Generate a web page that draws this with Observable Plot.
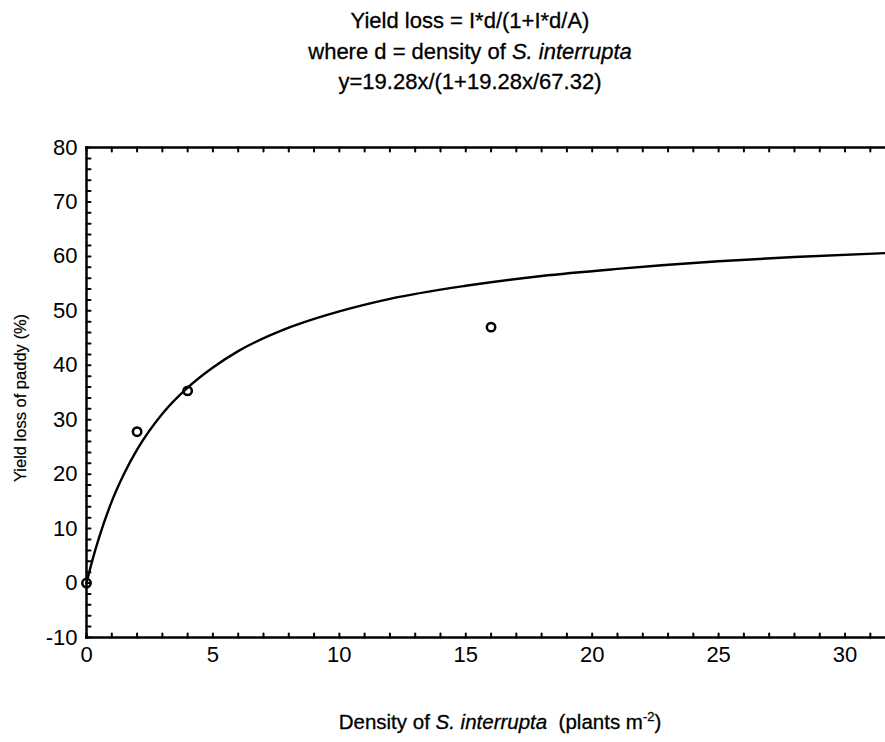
<!DOCTYPE html>
<html>
<head>
<meta charset="utf-8">
<script src="https://cdn.jsdelivr.net/npm/d3@7"></script>
<script src="https://cdn.jsdelivr.net/npm/@observablehq/plot@0.6"></script>
<style>
  html, body { margin: 0; padding: 0; background: #fff; }
  #wrap { position: relative; width: 885px; height: 742px; overflow: hidden; font-family: "Liberation Sans", Arial, sans-serif; color: #000; }
  #wrap svg { position: absolute; left: 0; top: 0; }
  .title { position: absolute; left: 270px; width: 400px; text-align: center; font-size: 22px; line-height: 30.5px; top: 6px; -webkit-text-stroke: 0.3px #000; }
  .xlab { position: absolute; left: 300px; width: 400px; text-align: center; font-size: 20.5px; top: 709px; white-space: nowrap; -webkit-text-stroke: 0.3px #000; }
  .ylab { position: absolute; left: 20px; top: 398px; transform: translate(-50%, -50%) rotate(-90deg); font-size: 16.5px; white-space: nowrap; -webkit-text-stroke: 0.2px #000; }
</style>
</head>
<body>
<div id="wrap">
  <div class="title">Yield loss = I*d/(1+I*d/A)<br>where d = density of <i>S. interrupta</i><br>y=19.28x/(1+19.28x/67.32)</div>
  <div class="xlab">Density of <i>S. interrupta</i>&nbsp; (plants m<sup style="font-size:13px">-2</sup>)</div>
  <div class="ylab">Yield loss of paddy (%)</div>
</div>
<script>
// Observed data points
const density = [0, 2, 4, 16];
const yieldLoss = [0, 27.8, 35.3, 47.0];

// Fitted curve
const curveX = [0, 0.25, 0.5, 1, 1.5, 2, 3, 4, 5, 6, 8, 10, 12, 15, 18, 21, 25, 28, 31.6];
const curveY = [0, 4.5, 8.4, 15.0, 20.2, 24.5, 31.1, 35.9, 39.6, 42.6, 46.9, 49.9, 52.2, 54.6, 56.4, 57.7, 59.1, 59.9, 60.6];

// Tick labels
const xTickLabels = [0, 5, 10, 15, 20, 25, 30];
const yTickLabels = [-10, 0, 10, 20, 30, 40, 50, 60, 70, 80];
const xMinorTicks = [0,1,2,3,4,5,6,7,8,9,10,11,12,13,14,15,16,17,18,19,20,21,22,23,24,25,26,27,28,29,30,31];
const yMinorTicks = [-10,-8,-6,-4,-2,0,2,4,6,8,10,12,14,16,18,20,22,24,26,28,30,32,34,36,38,40,42,44,46,48,50,52,54,56,58,60,62,64,66,68,70,72,74,76,78,80];

const points = density.map((d, i) => ({x: d, y: yieldLoss[i]}));
const curve = curveX.map((d, i) => ({x: d, y: curveY[i]}));

const tickShape = { draw(context, l) { context.moveTo(0, 0); context.lineTo(0, -l); } };
const fmt = d => String(d);

const chart = Plot.plot({
  width: 885,
  height: 742,
  marginLeft: 86,
  marginRight: 0,
  marginTop: 147,
  marginBottom: 105,
  style: { fontFamily: "'Liberation Sans', Arial, sans-serif", color: "#000", background: "transparent" },
  x: { domain: [0, 31.6] },
  y: { domain: [-10, 80] },
  marks: [
    Plot.axisX(xTickLabels, { tickSize: 0, tickPadding: 9, fontSize: 22, tickFormat: fmt, label: null, stroke: "#000", strokeWidth: 0.3 }),
    Plot.axisY(yTickLabels, { tickSize: 0, tickPadding: 9, fontSize: 22, tickFormat: fmt, label: null, stroke: "#000", strokeWidth: 0.3 }),
    Plot.vector(xMinorTicks, { x: d => d, frameAnchor: "bottom", anchor: "start", rotate: 0, length: 4, shape: tickShape, strokeWidth: 2, stroke: "#000" }),
    Plot.vector(xMinorTicks, { x: d => d, frameAnchor: "top", anchor: "start", rotate: 180, length: 4, shape: tickShape, strokeWidth: 2, stroke: "#000" }),
    Plot.vector(yMinorTicks, { y: d => d, frameAnchor: "left", anchor: "start", rotate: 90, length: 4, shape: tickShape, strokeWidth: 2, stroke: "#000" }),
    Plot.frame({ anchor: "left", strokeWidth: 2.5, stroke: "#000" }),
    Plot.frame({ anchor: "top", strokeWidth: 2.5, stroke: "#000" }),
    Plot.frame({ anchor: "bottom", strokeWidth: 2.5, stroke: "#000" }),
    Plot.line(curve, { x: "x", y: "y", stroke: "#000", strokeWidth: 2.4, curve: "monotone-x" }),
    Plot.dot(points, { x: "x", y: "y", r: 4.2, stroke: "#000", strokeWidth: 2.5, fill: "none" })
  ]
});
document.getElementById("wrap").prepend(chart);
</script>
</body>
</html>
